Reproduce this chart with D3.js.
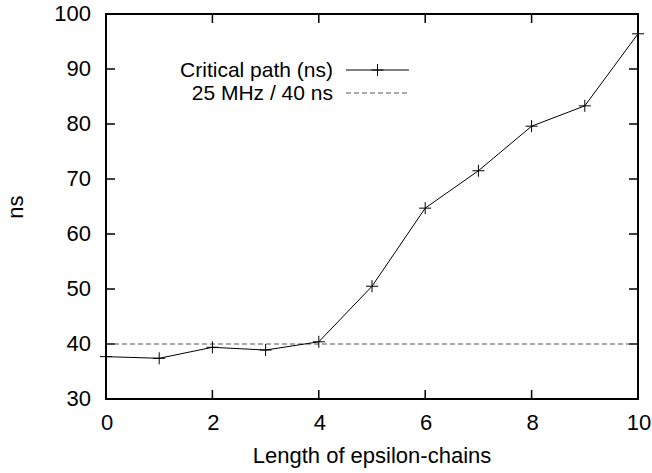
<!DOCTYPE html>
<html>
<head>
<meta charset="utf-8">
<script src="https://cdn.jsdelivr.net/npm/d3@7"></script>
<style>
  body { margin: 0; background: #fff; }
  text { font-family: "Liberation Sans", Arial, sans-serif; fill: #000; font-size: 22px; }
  .key { font-size: 21px; }
</style>
</head>
<body>
<svg id="chart" width="652" height="473"></svg>
<script>
const chainLengths = [0, 1, 2, 3, 4, 5, 6, 7, 8, 9, 10];
const criticalPath = [37.7, 37.4, 39.4, 38.9, 40.4, 50.5, 64.7, 71.5, 79.6, 83.3, 96.4];
const clockLimit = 40;
const xTicks = [0, 2, 4, 6, 8, 10];
const yTicks = [30, 40, 50, 60, 70, 80, 90, 100];
const seriesNames = ['Critical path (ns)', '25 MHz / 40 ns'];

const svg = d3.select('#chart');
const plotLeft = 106, plotRight = 638, plotTop = 14, plotBottom = 399;

const x = d3.scaleLinear().domain([0, 10]).range([plotLeft, plotRight]);
const y = d3.scaleLinear().domain([30, 100]).range([plotBottom, plotTop]);

// ticks, inward on all four sides
const tickLen = 9;
const ticks = svg.append('g').attr('stroke', '#000').attr('stroke-width', 1.5);
xTicks.forEach((t) => {
  ticks.append('line').attr('x1', x(t)).attr('x2', x(t)).attr('y1', plotBottom).attr('y2', plotBottom - tickLen);
  ticks.append('line').attr('x1', x(t)).attr('x2', x(t)).attr('y1', plotTop).attr('y2', plotTop + tickLen);
});
yTicks.forEach((t) => {
  ticks.append('line').attr('x1', plotLeft).attr('x2', plotLeft + tickLen).attr('y1', y(t)).attr('y2', y(t));
  ticks.append('line').attr('x1', plotRight).attr('x2', plotRight - tickLen).attr('y1', y(t)).attr('y2', y(t));
});

svg.append('g').selectAll('text').data(xTicks).enter().append('text')
  .attr('x', (d) => x(d) + 1).attr('y', plotBottom + 31)
  .attr('text-anchor', 'middle')
  .text((d) => d);

svg.append('g').selectAll('text').data(yTicks).enter().append('text')
  .attr('x', plotLeft - 15).attr('y', (d) => y(d) + 7)
  .attr('text-anchor', 'end')
  .text((d) => d);

svg.append('text')
  .attr('x', 372).attr('y', 463)
  .attr('text-anchor', 'middle')
  .text('Length of epsilon-chains');

svg.append('text')
  .attr('transform', 'translate(23, 207) rotate(-90)')
  .attr('text-anchor', 'middle')
  .text('ns');

// dashed 40 ns limit
svg.append('line')
  .attr('x1', x(0)).attr('x2', x(10))
  .attr('y1', y(clockLimit)).attr('y2', y(clockLimit))
  .attr('stroke', '#555').attr('stroke-width', 1)
  .attr('stroke-dasharray', '5,3');

const line = d3.line().x((d, i) => x(chainLengths[i])).y((d) => y(d));
svg.append('path').datum(criticalPath)
  .attr('d', line).attr('fill', 'none')
  .attr('stroke', '#000').attr('stroke-width', 1);

const plus = (g, cx, cy) => {
  g.append('line').attr('x1', cx - 6).attr('x2', cx + 6).attr('y1', cy).attr('y2', cy);
  g.append('line').attr('x1', cx).attr('x2', cx).attr('y1', cy - 6).attr('y2', cy + 6);
};
const marks = svg.append('g').attr('stroke', '#000').attr('stroke-width', 1);
criticalPath.forEach((v, i) => plus(marks, x(chainLengths[i]), y(v)));

// legend
const legend = svg.append('g');
const legendRows = [70, 93];
seriesNames.forEach((name, i) => {
  legend.append('text').attr('class', 'key')
    .attr('x', 333).attr('y', legendRows[i] + 7)
    .attr('text-anchor', 'end')
    .text(name);
});
legend.append('line')
  .attr('x1', 346).attr('x2', 409).attr('y1', legendRows[0]).attr('y2', legendRows[0])
  .attr('stroke', '#000').attr('stroke-width', 1);
plus(legend.append('g').attr('stroke', '#000'), 377.5, legendRows[0]);
legend.append('line')
  .attr('x1', 346).attr('x2', 409).attr('y1', legendRows[1]).attr('y2', legendRows[1])
  .attr('stroke', '#555').attr('stroke-width', 1)
  .attr('stroke-dasharray', '5,3');

// frame
svg.append('rect')
  .attr('x', plotLeft).attr('y', plotTop)
  .attr('width', plotRight - plotLeft).attr('height', plotBottom - plotTop)
  .attr('fill', 'none').attr('stroke', '#000').attr('stroke-width', 2);
</script>
</body>
</html>
